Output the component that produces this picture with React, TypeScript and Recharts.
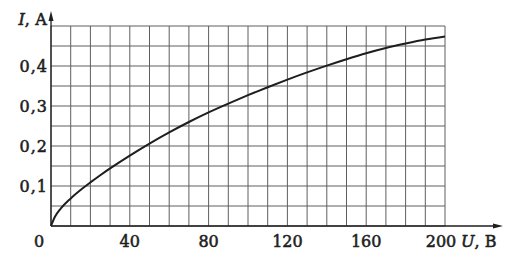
import { CartesianGrid, Customized, Line, LineChart, XAxis, YAxis } from "recharts";

// U, В -> I, А
const voltage = [0, 2, 5, 10, 15, 20, 25, 30, 40, 50, 60, 70, 80, 90, 100, 110, 120, 130, 140, 150, 160, 170, 180, 190, 200];
const current = [0, 0.023, 0.044, 0.069, 0.09, 0.109, 0.127, 0.144, 0.176, 0.206, 0.234, 0.26, 0.284, 0.306, 0.327, 0.347, 0.366, 0.384, 0.401, 0.417, 0.432, 0.445, 0.456, 0.466, 0.474];

// grid lines
const gridVoltage = [0, 10, 20, 30, 40, 50, 60, 70, 80, 90, 100, 110, 120, 130, 140, 150, 160, 170, 180, 190, 200];
const gridCurrent = [0, 0.05, 0.1, 0.15, 0.2, 0.25, 0.3, 0.35, 0.4, 0.45, 0.5];

// labelled ticks
const voltageLabels = [0, 40, 80, 120, 160, 200];
const currentLabels = [0.1, 0.2, 0.3, 0.4];

const W = 521;
const H = 264;
const AXIS_W = 51;
const AXIS_H = 38;
const margin = { top: 26, right: 76, bottom: 0, left: 0 };
const plotLeft = AXIS_W;
const plotBottom = H - AXIS_H;

const FONT = "'DejaVu Serif', serif";
const INK = "#1e1e1e";
const textStyle = { fontFamily: FONT, fontSize: 16, fill: INK, stroke: INK, strokeWidth: 0.55 };

const data = voltage.map((u, idx) => ({ u, i: current[idx] }));

function XTick(props: any) {
  const { x, payload } = props;
  const v = payload.value;
  if (!voltageLabels.includes(v)) return <g />;
  let tx = x;
  if (v === 0) tx = x - 12;
  if (v === 200) tx = x - 4;
  return (
    <text x={tx} y={plotBottom + 20.5} textAnchor="middle" {...textStyle}>
      {v}
    </text>
  );
}

function YTick(props: any) {
  const { y, payload } = props;
  const v = payload.value;
  if (!currentLabels.some((c) => Math.abs(c - v) < 1e-6)) return <g />;
  return (
    <text x={plotLeft - 3} y={y + 5.5} textAnchor="end" letterSpacing={1} {...textStyle}>
      {String(v).replace(".", ",")}
    </text>
  );
}

function Axes() {
  return (
    <g>
      <line x1={plotLeft} y1={plotBottom} x2={496} y2={plotBottom} stroke={INK} strokeWidth={1.3} />
      <polygon points={`503,${plotBottom} 493,${plotBottom - 2.5} 493,${plotBottom + 2.5}`} fill={INK} />
      <line x1={plotLeft} y1={plotBottom} x2={plotLeft} y2={18} stroke={INK} strokeWidth={1.3} />
      <polygon points={`${plotLeft},11 ${plotLeft - 2.5},21 ${plotLeft + 2.5},21`} fill={INK} />
      <text x={461} y={plotBottom + 20.5} {...textStyle}>
        <tspan fontStyle="italic">U</tspan>, В
      </text>
      <text x={47} y={25} textAnchor="end" {...textStyle}>
        <tspan fontStyle="italic">I</tspan>, А
      </text>
    </g>
  );
}

export default function App() {
  return (
    <div style={{ position: "absolute", left: 0, top: 0, width: W, height: H, background: "#fff" }}>
      <LineChart width={W} height={H} data={data} margin={margin}>
        <CartesianGrid stroke="#5e5e5e" strokeWidth={1} />
        <XAxis
          dataKey="u"
          type="number"
          domain={[0, 200]}
          ticks={gridVoltage}
          interval={0}
          height={AXIS_H}
          axisLine={false}
          tickLine={false}
          tick={<XTick />}
        />
        <YAxis
          type="number"
          domain={[0, 0.5]}
          ticks={gridCurrent}
          interval={0}
          width={AXIS_W}
          axisLine={false}
          tickLine={false}
          tick={<YTick />}
        />
        <Line
          type="monotone"
          dataKey="i"
          stroke={INK}
          strokeWidth={2}
          dot={false}
          isAnimationActive={false}
        />
        <Customized component={<Axes />} />
      </LineChart>
    </div>
  );
}
